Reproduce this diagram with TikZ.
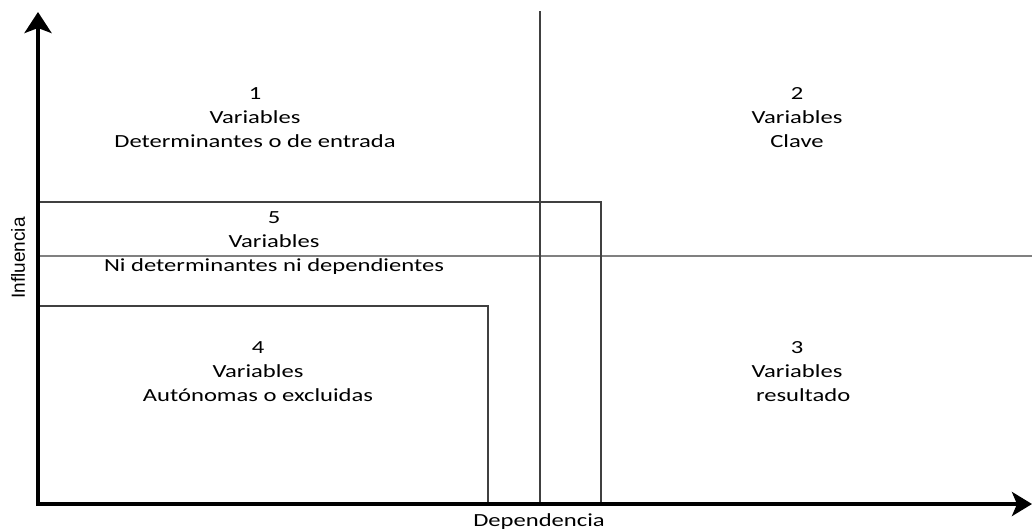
\documentclass[tikz,border=0pt]{standalone}
\usepackage{fontspec}
\usepackage{graphicx}
\setmainfont{Carlito}
\newfontfamily\arialf{Liberation Sans}
\usetikzlibrary{arrows.meta}
\newcommand\qlabel[1]{\scalebox{1.33}[1]{\begin{tabular}[t]{@{}c@{}}#1\end{tabular}}}
\begin{document}
\begin{tikzpicture}[x=1pt,y=-1pt,
  axis/.style={line width=4pt,line join=miter,{Stealth[length=21pt,width=27pt,inset=5pt]}-{Stealth[length=20pt,width=24pt,inset=5pt]}},
  thinline/.style={line width=1.3pt,draw=black!75},
  gridline/.style={line width=1.2pt,draw=black!50},
  lbl/.style={inner sep=0pt,anchor=base,font=\fontsize{18.5}{24}\selectfont}]
\useasboundingbox (0,0) rectangle (1032,531);
% coordinates
\coordinate (top) at (38,12);
\coordinate (O) at (38,504);
\coordinate (right) at (1032,504);
\coordinate (vtop) at (540,11);
\coordinate (vbot) at (540,504);
\coordinate (hl) at (38,256);
\coordinate (hr) at (1032,256);
\coordinate (b5a) at (38,202);
\coordinate (b5b) at (601,202);
\coordinate (b5c) at (601,504);
\coordinate (b4a) at (38,306);
\coordinate (b4b) at (488,306);
\coordinate (b4c) at (488,504);
% thin lines
\draw[gridline] (hl) -- (hr);
\draw[thinline] (vtop) -- (vbot);
\draw[thinline] (b5a) -- (b5b) -- (b5c);
\draw[thinline] (b4a) -- (b4b) -- (b4c);
% axes
\draw[axis] (top) -- (O) -- (right);
% labels
\node[lbl] (q1) at (255,99) {\qlabel{1\\Variables\\Determinantes o de entrada}};
\node[lbl] (q2) at (797,99) {\qlabel{2\\Variables\\Clave}};
\node[lbl] (q5) at (274,223) {\qlabel{5\\Variables\\Ni determinantes ni dependientes}};
\node[lbl] (q4) at (258,353) {\qlabel{4\\Variables\\Autónomas o excluidas}};
\node[lbl] (q3) at (797,353) {\qlabel{3\\Variables\\\hspace*{0.5em}resultado}};
\node[lbl] (dep) at (539,526) {\qlabel{Dependencia}};
\node[inner sep=0pt,rotate=90,font=\arialf\fontsize{19}{21}\selectfont] (inf) at (18,258) {Influencia};
\end{tikzpicture}
\end{document}
